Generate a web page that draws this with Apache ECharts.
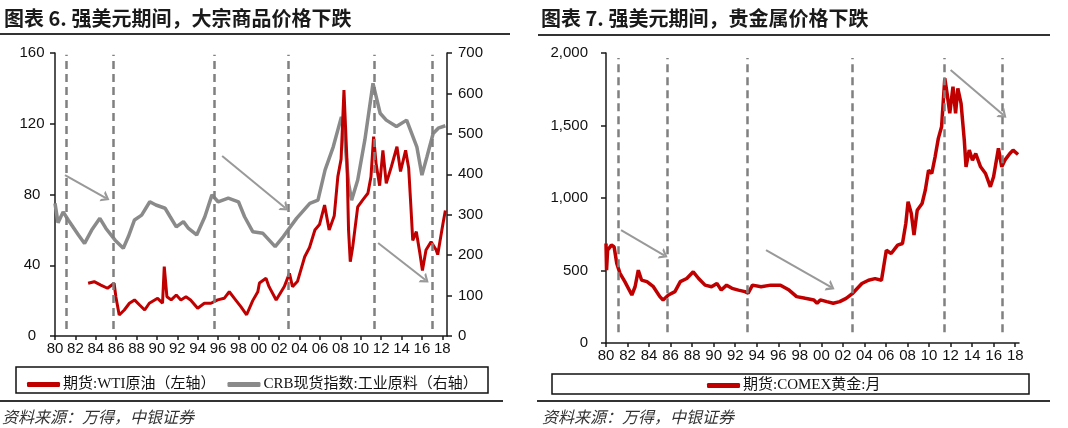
<!DOCTYPE html>
<html><head><meta charset="utf-8">
<script src="https://cdn.jsdelivr.net/npm/echarts@6/dist/echarts.min.js"></script>
<style>html,body{margin:0;padding:0;background:#fff}#c{width:1068px;height:428px}</style>
</head><body><div id="c"></div>
<script>
// ---------- data ----------
const xTickYears = [1980,1982,1984,1986,1988,1990,1992,1994,1996,1998,2000,2002,2004,2006,2008,2010,2012,2014,2016,2018];
const xTickLabels = ['80','82','84','86','88','90','92','94','96','98','00','02','04','06','08','10','12','14','16','18'];

const wtiName = '期货:WTI原油（左轴）';
const crbName = 'CRB现货指数:工业原料（右轴）';
const goldName = '期货:COMEX黄金:月';

const wtiYears = [1983.25,1983.85,1984.5,1985.15,1985.8,1985.97,1986.3,1986.8,1987.3,1987.8,1988.3,1988.8,1989.25,1990.07,1990.55,1990.72,1990.98,1991.4,1991.9,1992.35,1992.85,1993.3,1994.0,1994.65,1995.3,1995.96,1996.6,1997.1,1997.6,1998.25,1998.8,1999.4,1999.9,2000.06,2000.7,2001.0,2001.7,2002.5,2003.0,2003.3,2003.8,2004.5,2004.97,2005.5,2005.95,2006.45,2006.9,2007.4,2007.75,2008.07,2008.35,2008.64,2008.8,2008.97,2009.2,2009.7,2010.2,2010.7,2011.0,2011.26,2011.5,2011.85,2012.17,2012.5,2013.0,2013.55,2013.9,2014.4,2014.7,2014.9,2015.1,2015.45,2015.8,2016.05,2016.4,2016.9,2017.4,2017.55,2018.07,2018.3];
const wtiValues = [29.8,30.7,28.8,27.0,29.8,22.2,11.9,14.7,18.5,20.4,17.5,14.7,18.5,21.3,18.5,39.2,22.2,20.4,23.2,20.4,22.2,20.4,15.7,18.5,18.5,20.4,21.3,25.0,21.3,16.5,12,20,25,30,32.6,27.9,20.4,28,35.4,27.9,31,44.8,50,59.9,63,74,59.9,68,90.1,100,139.1,100,60,42,50,73,77,80.7,90,112.7,97.6,85,105,86.3,95.7,107,93,105,95,75,54,59,46.8,37,48.6,53.3,48.6,46,63.7,71];

const crbYears = [1980.0,1980.3,1980.8,1981.3,1982.3,1982.9,1983.6,1984.4,1985.0,1985.9,1986.7,1987.2,1987.8,1988.5,1989.3,1989.9,1990.8,1991.3,1991.9,1992.6,1993.1,1993.9,1994.7,1995.4,1996.0,1997.0,1998.0,1998.6,1999.4,2000.4,2001.6,2002.4,2003.7,2005.0,2005.8,2006.5,2007.3,2008.1,2008.4,2008.8,2009.1,2009.7,2010.4,2011.2,2011.9,2012.5,2013.5,2014.5,2015.5,2016.0,2016.5,2017.1,2017.6,2018.3];
const crbValues = [328,280,307,287,250,229,262,291,266,237,217,246,287,299,332,324,316,295,270,283,266,250,295,349,332,341,332,295,258,254,221,246,291,328,336,411,468,542,493,378,336,386,485,625,551,534,518,534,468,398,444,501,514,520];

const goldYears = [1980.0,1980.05,1980.15,1980.5,1980.75,1981.0,1981.3,1981.75,1982.4,1982.7,1983.0,1983.3,1983.8,1984.4,1985.0,1985.3,1985.8,1986.4,1986.9,1987.5,1988.1,1988.6,1989.2,1989.8,1990.3,1990.7,1991.2,1991.7,1992.3,1992.9,1993.2,1993.6,1994.4,1995.3,1996.2,1997.0,1997.7,1998.5,1999.3,1999.6,1999.9,2000.5,2001.1,2001.7,2002.3,2002.87,2003.76,2004.37,2004.98,2005.58,2006.03,2006.48,2007.08,2007.53,2007.84,2008.05,2008.35,2008.6,2008.9,2009.35,2009.65,2009.95,2010.25,2010.56,2010.86,2011.16,2011.46,2011.67,2011.92,2012.22,2012.46,2012.67,2012.97,2013.27,2013.43,2013.73,2014.03,2014.33,2014.78,2015.24,2015.69,2015.99,2016.44,2016.75,2017.04,2017.5,2017.8,2018.26];
const goldValues = [686,502,640,675,664,549,480,423,331,388,502,434,423,388,320,297,331,354,423,445,491,445,399,388,411,365,399,377,365,354,343,399,388,399,399,365,320,308,297,274,297,285,274,285,308,340,410,433,444,433,640,617,675,686,824,974,893,744,916,962,1054,1192,1169,1284,1411,1491,1825,1722,1584,1767,1584,1756,1653,1399,1215,1330,1261,1307,1215,1169,1077,1146,1342,1215,1261,1307,1330,1300];

// annotations (data space)
const dashYearsL = [1981.1,1985.7,1995.6,2002.9,2011.3,2017.0];
const dashRangeL = [4,159];
const dashYearsR = [1981.1,1985.7,1993.1,2002.9,2011.4,2016.8];
const dashRangeR = [75,1965];
const arrowsL = [[[1980.98,91.0],[1985.0,78.0]],[[1996.4,101.8],[2002.6,72.4]],[[2011.7,52.6],[2016.35,31.7]]];
const arrowsR = [[[1981.4,778],[1985.4,605]],[[1994.86,640],[2000.9,385]],[[2012.0,1883],[2016.9,1572]]];

const titleL = '图表 6. 强美元期间，大宗商品价格下跌';
const titleR = '图表 7. 强美元期间，贵金属价格下跌';
const sourceText = '资料来源：万得，中银证券';

// ---------- chart ----------
const zip = (xs, ys) => xs.map((x, i) => [x, ys[i]]);
const numFont = "'Liberation Sans Narrow','Liberation Sans',Arial,sans-serif";
const cjk = "'Noto Sans CJK SC',sans-serif";
const legFont = "'Liberation Serif','Noto Sans CJK SC',serif";
const axisCol = '#1a1a1a';
const chevron = 'path://M0,10L5,0L10,10L7.8,10L5,4.6L2.2,10Z';

function markLines(dYears, dRange, arrows) {
  const d = dYears.map(y => [
    {coord:[y, dRange[0]], symbol:'none', lineStyle:{type:[8,5], color:'#808080', width:2.5}},
    {coord:[y, dRange[1]], symbol:'none'}
  ]);
  const a = arrows.map(ar => [
    {coord:ar[0], symbol:'none', lineStyle:{type:'solid', color:'#999999', width:2}},
    {coord:ar[1], symbol:chevron, symbolSize:[12,8]}
  ]);
  return {silent:true, animation:false, label:{show:false}, emphasis:{disabled:true}, symbol:['none','none'], data:d.concat(a)};
}

function xAxisCfg(gi, max) {
  return {
    gridIndex: gi, type:'value', min:1980, max:max,
    axisLine:{show:true, onZero:false, lineStyle:{color:axisCol, width:1.5}},
    axisTick:{show:true, customValues:xTickYears, length:4, inside:false, lineStyle:{color:axisCol, width:1.5}},
    axisLabel:{customValues:xTickYears, margin:5, color:'#111', fontSize:15, fontFamily:numFont,
      formatter: v => { const i = xTickYears.indexOf(Math.round(v)); return i >= 0 ? xTickLabels[i] : ''; }},
    splitLine:{show:false}
  };
}

const chart = echarts.init(document.getElementById('c'), null, {renderer:'canvas'});
chart.setOption({
  animation:false,
  backgroundColor:'#ffffff',
  grid:[
    {left:55, top:53, width:392, height:283},
    {left:606, top:53, width:413, height:290}
  ],
  xAxis:[ xAxisCfg(0, 2018.46), xAxisCfg(1, 2018.35) ],
  yAxis:[
    {gridIndex:0, type:'value', min:0, max:160, interval:40, position:'left',
      axisLine:{show:true, lineStyle:{color:axisCol, width:1.5}},
      axisTick:{show:true, length:5, lineStyle:{color:axisCol, width:1.5}},
      axisLabel:{align:'center', margin:23, color:'#111', fontSize:15, fontFamily:numFont},
      splitLine:{show:false}},
    {gridIndex:0, type:'value', min:0, max:700, interval:100, position:'right',
      axisLine:{show:true, lineStyle:{color:axisCol, width:1.5}},
      axisTick:{show:true, length:5, lineStyle:{color:axisCol, width:1.5}},
      axisLabel:{margin:11, color:'#111', fontSize:15, fontFamily:numFont},
      splitLine:{show:false}},
    {gridIndex:1, type:'value', min:0, max:2000, interval:500, position:'left',
      axisLine:{show:true, lineStyle:{color:axisCol, width:1.5}},
      axisTick:{show:true, length:5, lineStyle:{color:axisCol, width:1.5}},
      axisLabel:{margin:18, color:'#111', fontSize:15, fontFamily:numFont,
        formatter: v => v >= 1000 ? Math.floor(v/1000) + ',' + String(v % 1000).padStart(3,'0') : String(v)},
      splitLine:{show:false}}
  ],
  legend:[
    {data:[wtiName, crbName], left:22, top:372, itemWidth:33, itemHeight:5, itemGap:12, icon:'roundRect',
      selectedMode:false, textStyle:{fontSize:15, fontFamily:legFont, color:'#111', padding:[0,0,0,-2]}},
    {data:[goldName], left:702, top:373, itemWidth:33, itemHeight:5, icon:'roundRect',
      selectedMode:false, textStyle:{fontSize:15, fontFamily:legFont, color:'#111', padding:[0,0,0,-2]}}
  ],
  series:[
    {name:crbName, type:'line', xAxisIndex:0, yAxisIndex:1, data:zip(crbYears, crbValues),
      showSymbol:false, lineStyle:{color:'#8a8a8a', width:3.5}, itemStyle:{color:'#8a8a8a'}, z:2},
    {name:wtiName, type:'line', xAxisIndex:0, yAxisIndex:0, data:zip(wtiYears, wtiValues),
      showSymbol:false, lineStyle:{color:'#c00000', width:3}, itemStyle:{color:'#c00000'}, z:3,
      markLine: markLines(dashYearsL, dashRangeL, arrowsL)},
    {name:goldName, type:'line', xAxisIndex:1, yAxisIndex:2, data:zip(goldYears, goldValues),
      showSymbol:false, lineStyle:{color:'#c00000', width:3.5}, itemStyle:{color:'#c00000'}, z:3,
      markLine: markLines(dashYearsR, dashRangeR, arrowsR)}
  ],
  graphic:[
    {type:'text', x:4, y:18, style:{text:titleL, fontSize:20, fontWeight:'bold', fontFamily:cjk, fill:'#1a1a1a', verticalAlign:'middle'}},
    {type:'text', x:541, y:18, style:{text:titleR, fontSize:20, fontWeight:'bold', fontFamily:cjk, fill:'#1a1a1a', verticalAlign:'middle'}},
    {type:'line', shape:{x1:0, y1:34, x2:510, y2:34}, style:{stroke:'#333', lineWidth:2}},
    {type:'line', shape:{x1:538, y1:35, x2:1050, y2:35}, style:{stroke:'#333', lineWidth:2}},
    {type:'rect', shape:{x:16, y:367, width:472, height:26}, style:{fill:'none', stroke:'#111', lineWidth:1.5}},
    {type:'rect', shape:{x:552, y:374, width:477, height:20}, style:{fill:'none', stroke:'#111', lineWidth:1.5}},
    {type:'line', shape:{x1:0, y1:401, x2:503, y2:401}, style:{stroke:'#333', lineWidth:2}},
    {type:'line', shape:{x1:537, y1:401, x2:1050, y2:401}, style:{stroke:'#333', lineWidth:2}},
    {type:'text', x:2, y:417, style:{text:sourceText, fontSize:16, fontStyle:'italic', fontFamily:cjk, fill:'#333', verticalAlign:'middle'}},
    {type:'text', x:542, y:417, style:{text:sourceText, fontSize:16, fontStyle:'italic', fontFamily:cjk, fill:'#333', verticalAlign:'middle'}}
  ]
});
</script>
</body></html>
